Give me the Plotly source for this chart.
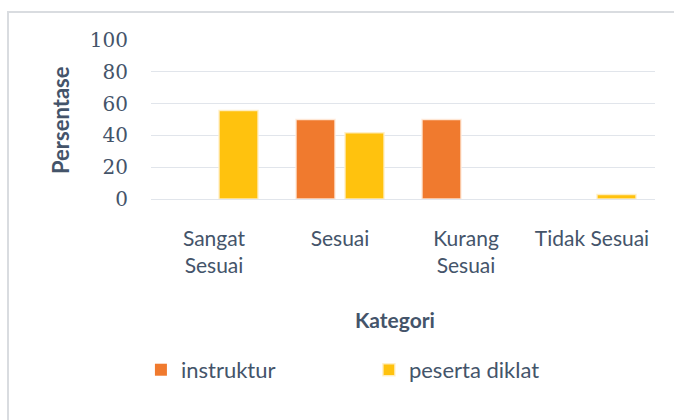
import plotly.graph_objects as go

categories = ["Sangat<br>Sesuai", "Sesuai", "Kurang<br>Sesuai", "Tidak Sesuai"]
instruktur = [0, 50, 50, 0]
peserta_diklat = [55.6, 41.7, 0, 2.8]
y_ticks = [0, 20, 40, 60, 80, 100]

text_color = "#44546A"


def edge_widths(values):
    return [0 if v == 0 else 1.5 for v in values]


fig = go.Figure()
fig.add_trace(go.Bar(
    x=categories, y=instruktur, name="instruktur",
    marker=dict(color="#F07A2E",
                line=dict(color="rgba(255,235,220,0.9)", width=edge_widths(instruktur))),
))
fig.add_trace(go.Bar(
    x=categories, y=peserta_diklat, name="peserta diklat",
    marker=dict(color="#FFC20E",
                line=dict(color="rgba(255,240,200,0.9)", width=edge_widths(peserta_diklat))),
))

fig.update_layout(
    width=674, height=420,
    margin=dict(l=151, r=19, t=40, b=221),
    paper_bgcolor="white", plot_bgcolor="white",
    barmode="group", bargap=0.222, bargroupgap=0.204,
    showlegend=True,
    legend=dict(
        orientation="h", x=-0.02, xanchor="left", y=-1.075, yanchor="middle",
        font=dict(family="Lato", size=22, color=text_color),
        entrywidth=183, entrywidthmode="pixels",
        itemwidth=30,
    ),
    xaxis=dict(
        tickfont=dict(family="Lato", size=21, color=text_color),
        showgrid=False, showline=False, ticks="", ticklabelstandoff=25,
    ),
    yaxis=dict(
        range=[0, 100], tickvals=y_ticks,
        tickfont=dict(family="DejaVu Serif", size=20, color=text_color),
        showgrid=True, gridcolor="#E1E5EB", gridwidth=1,
        zeroline=True, zerolinecolor="#E1E5EB", zerolinewidth=1,
        showline=False, ticks="", ticklabelstandoff=22,
    ),
    annotations=[
        dict(text="<b>Kategori</b>", xref="paper", yref="paper",
             x=(395 - 151) / 504, y=(199 - 319) / 159, xanchor="center", yanchor="middle",
             showarrow=False, font=dict(family="Lato", size=21, color=text_color)),
        dict(text="<b>Persentase</b>", xref="paper", yref="paper",
             x=(60 - 151) / 504, y=(199 - 120) / 159, xanchor="center", yanchor="middle",
             textangle=-90,
             showarrow=False, font=dict(family="Lato", size=22, color=text_color)),
    ],
    shapes=[
        dict(type="rect", xref="paper", yref="paper",
             x0=(8 - 151) / 504, x1=(700 - 151) / 504,
             y0=(199 - 440) / 159, y1=(199 - 12) / 159,
             line=dict(color="#D9DCE0", width=2), fillcolor="rgba(0,0,0,0)", layer="below"),
    ],
)

fig.write_html("out.html")
